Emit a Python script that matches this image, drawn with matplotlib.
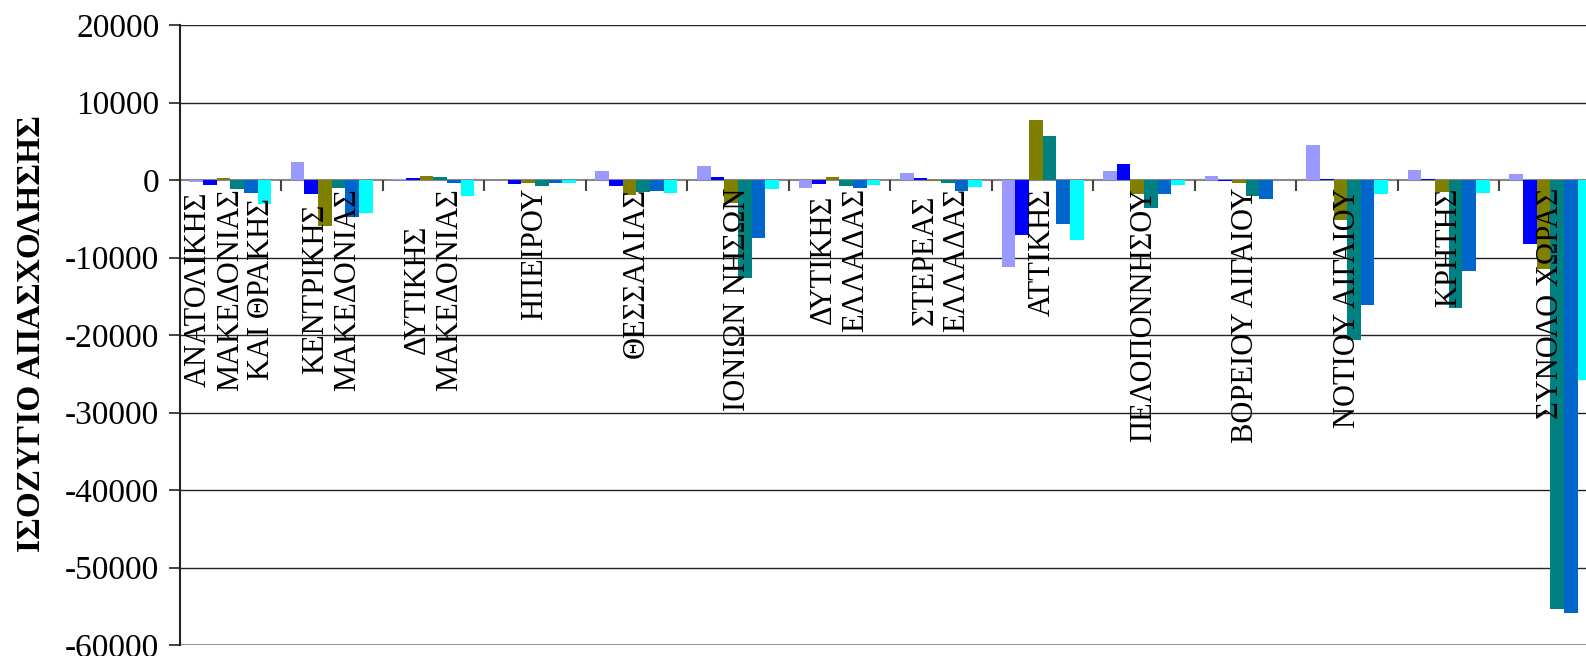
import matplotlib
matplotlib.use("Agg")
import matplotlib.pyplot as plt
import numpy as np

categories = [
    "ΑΝΑΤΟΛΙΚΗΣ\nΜΑΚΕΔΟΝΙΑΣ\nΚΑΙ ΘΡΑΚΗΣ",
    "ΚΕΝΤΡΙΚΗΣ\nΜΑΚΕΔΟΝΙΑΣ",
    "ΔΥΤΙΚΗΣ\nΜΑΚΕΔΟΝΙΑΣ",
    "ΗΠΕΙΡΟΥ",
    "ΘΕΣΣΑΛΙΑΣ",
    "ΙΟΝΙΩΝ ΝΗΣΩΝ",
    "ΔΥΤΙΚΗΣ\nΕΛΛΑΔΑΣ",
    "ΣΤΕΡΕΑΣ\nΕΛΛΑΔΑΣ",
    "ΑΤΤΙΚΗΣ",
    "ΠΕΛΟΠΟΝΝΗΣΟΥ",
    "ΒΟΡΕΙΟΥ ΑΙΓΑΙΟΥ",
    "ΝΟΤΙΟΥ ΑΙΓΑΙΟΥ",
    "ΚΡΗΤΗΣ",
    "ΣΥΝΟΛΟ ΧΩΡΑΣ",
]

series_1 = [-200, 2360, 100, -50, 1200, 1800, -990, 900, -11180, 1200, 520, 4520, 1300, 790]
series_2 = [-600, -1760, 260, -470, -730, 390, -470, 260, -7050, 2060, -90, 90, 90, -8240]
series_3 = [260, -5930, 520, -340, -1890, -2970, 390, -90, 7740, -1760, -340, -5120, -1530, -11480]
series_4 = [-1160, -990, 390, -730, -1500, -12600, -730, -340, 5680, -3570, -2020, -20700, -16480, -55380]
series_5 = [-1630, -4730, -340, -340, -1380, -7440, -990, -1380, -5630, -1760, -2410, -16080, -11760, -55930]
series_6 = [-3050, -4260, -2020, -340, -1630, -1160, -600, -860, -7700, -600, -50, -1760, -1620, -25840]

series = [series_1, series_2, series_3, series_4, series_5, series_6]
colors = ["#9999FF", "#0000FF", "#808000", "#008080", "#0066CC", "#00FFFF"]

y_ticks = [20000, 10000, 0, -10000, -20000, -30000, -40000, -50000, -60000]
y_label = "ΙΣΟΖΥΓΙΟ ΑΠΑΣΧΟΛΗΣΗΣ"

serif = ["Liberation Serif", "DejaVu Serif"]
plt.rcParams["font.family"] = serif

W, H = 1586, 656
fig = plt.figure(figsize=(W / 100, H / 100), dpi=100)
left_px, right_px, top_px, bottom_px = 179.5, 1601, 25, 645
ax = fig.add_axes([left_px / W, (H - bottom_px) / H,
                   (right_px - left_px) / W, (bottom_px - top_px) / H])

n = len(categories)
x = np.arange(n)
bw = 0.1345
for i, (vals, c) in enumerate(zip(series, colors)):
    offs = (i - 2.5) * bw
    ax.bar(x + offs, vals, width=bw, color=c, edgecolor="none", zorder=2)

ax.set_xlim(-0.5, n - 0.5)
ax.set_ylim(-60000, 20000)
ax.set_yticks(y_ticks)
ax.set_yticklabels([str(t) for t in y_ticks], fontsize=24)

# gridlines
for t in y_ticks:
    if t in (0, -60000):
        continue
    ax.axhline(t, color="#222222", lw=1.0, zorder=1)
ax.axhline(-60000, color="#888888", lw=2.0, zorder=1)

# x axis at zero
ax.spines["bottom"].set_position(("data", 0))
ax.spines["bottom"].set_color("#888888")
ax.spines["bottom"].set_linewidth(1.5)
ax.spines["bottom"].set_zorder(1.5)
ax.spines["top"].set_visible(False)
ax.spines["right"].set_visible(False)
ax.spines["left"].set_color("#222222")
ax.spines["left"].set_linewidth(1.5)

ax.set_xticks(np.arange(n + 1) - 0.5)
ax.set_xticklabels([])
ax.tick_params(axis="x", direction="out", length=8, width=1.5, color="#444444")
ax.tick_params(axis="y", direction="out", length=8, width=1.2, color="#222222", pad=6.5)

for xi, lab in zip(x, categories):
    ax.text(xi, -1000, lab, rotation=90, ha="center", va="top",
            multialignment="center", fontsize=22, linespacing=1.12,
            color="black", zorder=3)

fig.text(32 / W, 0.492, y_label, rotation=90, ha="center", va="center",
         fontsize=24, fontweight="bold")

fig.savefig("out.png", dpi=100)
